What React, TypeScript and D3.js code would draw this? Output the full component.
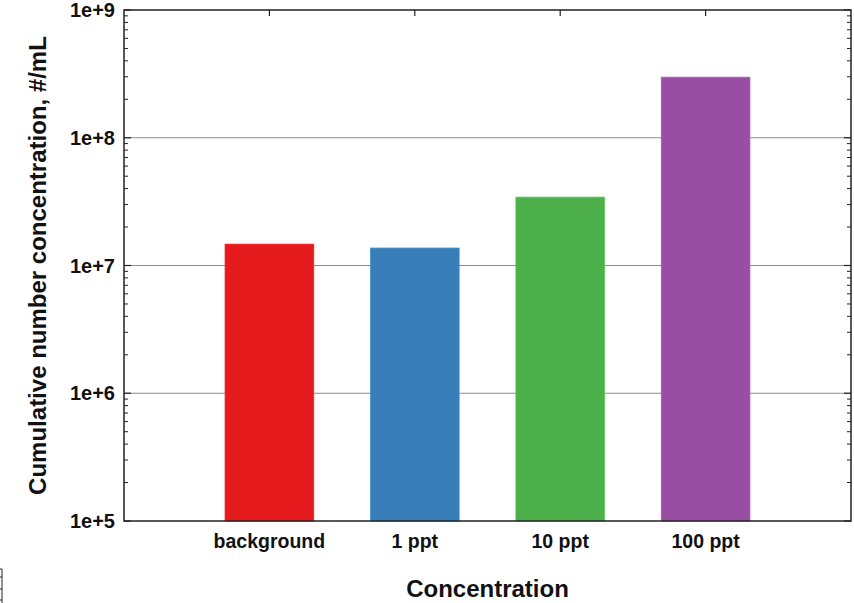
import React from "react";
import * as d3 from "d3";

const categories = ["background", "1 ppt", "10 ppt", "100 ppt"];
const values = [1.47e7, 1.37e7, 3.43e7, 2.98e8];
const colors = ["#e41a1c", "#377eb8", "#4daf4a", "#984ea3"];
const yTickValues = [1e5, 1e6, 1e7, 1e8, 1e9];
const yTickLabels = ["1e+5", "1e+6", "1e+7", "1e+8", "1e+9"];
const xTitle = "Concentration";
const yTitle = "Cumulative number concentration, #/mL";

const W = 854, H = 603;
const L = 124, R = 851, T = 10, B = 521;

export default function App() {
  const x = d3.scaleLinear().domain([0, categories.length + 1]).range([L, R]);
  const y = d3.scaleLog().domain([1e5, 1e9]).range([B, T]);
  const step = x(1) - x(0);
  const bw = step * 0.61;
  const minor: number[] = [];
  for (let e = 5; e < 9; e++) for (let m = 2; m <= 9; m++) minor.push(m * Math.pow(10, e));
  const font = "'Liberation Sans', Arial, sans-serif";
  return (
    <svg width={W} height={H} style={{ position: "absolute", left: 0, top: 0, background: "#fff" }} fontFamily={font}>
      <rect x={0} y={0} width={W} height={H} fill="#fff" />
      {yTickValues.slice(1, -1).map((v, i) => (
        <line key={"g" + i} x1={L} x2={R} y1={y(v)} y2={y(v)} stroke="#8c8c8c" strokeWidth={1} />
      ))}
      {values.map((v, i) => {
        const cx = x(i + 1);
        return (
          <rect key={"b" + i} x={cx - bw / 2} y={y(v)} width={bw} height={B - y(v)}
            fill={colors[i]} stroke={d3.color(colors[i])!.brighter(0.4).toString()} strokeWidth={0.8} />
        );
      })}
      {minor.map((v, i) => (
        <g key={"m" + i}>
          <line x1={L} x2={L + 4} y1={y(v)} y2={y(v)} stroke="#222" strokeWidth={1} />
          <line x1={R} x2={R - 4} y1={y(v)} y2={y(v)} stroke="#222" strokeWidth={1} />
        </g>
      ))}
      {yTickValues.map((v, i) => (
        <g key={"t" + i}>
          <line x1={L} x2={L + 7} y1={y(v)} y2={y(v)} stroke="#222" strokeWidth={1.2} />
          <line x1={R} x2={R - 7} y1={y(v)} y2={y(v)} stroke="#222" strokeWidth={1.2} />
          <text x={115} y={y(v)} dy="0.36em" textAnchor="end" fontSize={20} fontWeight="bold" fill="#111">
            {yTickLabels[i]}
          </text>
        </g>
      ))}
      {categories.map((c, i) => (
        <g key={"c" + i}>
          <line x1={x(i + 1)} x2={x(i + 1)} y1={T} y2={T + 6} stroke="#222" strokeWidth={1.2} />
          <text x={x(i + 1)} y={548} textAnchor="middle" fontSize={19.5} fontWeight="bold" fill="#111">{c}</text>
        </g>
      ))}
      <rect x={L} y={T} width={R - L} height={B - T} fill="none" stroke="#222" strokeWidth={1.5} />
      <text x={(L + R) / 2} y={597} textAnchor="middle" fontSize={24} fontWeight="bold" fill="#111">{xTitle}</text>
      <text transform={`translate(46,${(T + B) / 2}) rotate(-90)`} textAnchor="middle" fontSize={24} fontWeight="bold" fill="#111">{yTitle}</text>
      <g stroke="#222" strokeWidth={1} fill="none">
        <line x1={2} x2={2} y1={569} y2={603} />
        <line x1={0} x2={2} y1={569} y2={569} />
        <line x1={0} x2={2} y1={577} y2={577} />
        <line x1={0} x2={2} y1={589} y2={589} />
        <line x1={0} x2={2} y1={600} y2={600} />
      </g>
    </svg>
  );
}
